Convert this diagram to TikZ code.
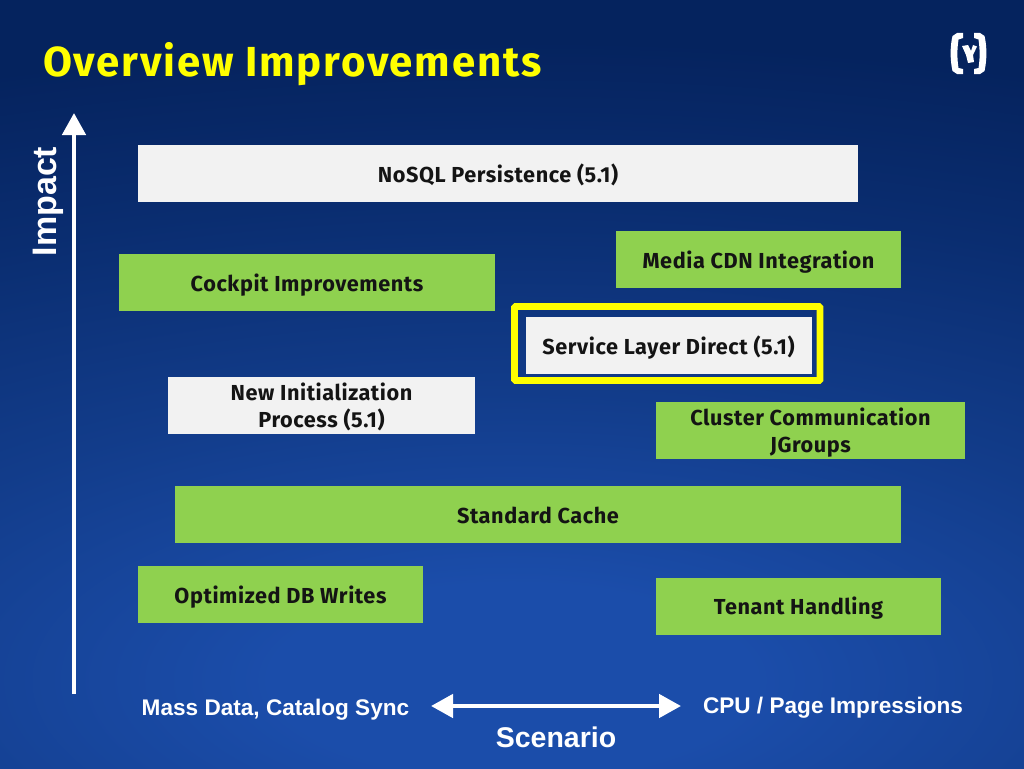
\documentclass[tikz,border=0pt]{standalone}
\usepackage{fontspec}
\setmainfont{Fira Sans}
\newfontfamily\labelfont{Liberation Sans}
\newfontfamily\boxfont[LetterSpace=2.6]{Fira Sans}
\newfontfamily\titlefont[LetterSpace=4.2]{Fira Sans}
\usetikzlibrary{arrows.meta}
\definecolor{bgcenter}{HTML}{1B4DAA}
\definecolor{bgmid}{HTML}{123C8A}
\definecolor{bgdark}{HTML}{0A2D70}
\definecolor{bgouter}{HTML}{05235E}
\definecolor{boxgreen}{HTML}{8FD14F}
\definecolor{boxlight}{HTML}{F2F2F2}
\definecolor{titleyellow}{HTML}{FFFF00}
\pgfdeclareradialshading{slidebg}{\pgfpoint{0bp}{0bp}}{
  color(0bp)=(bgcenter);
  color(3bp)=(bgcenter);
  color(9bp)=(bgmid);
  color(15bp)=(bgdark);
  color(20bp)=(bgouter);
  color(50bp)=(bgouter)}
\tikzset{
  x=1pt,y=-1pt,
  box/.style={anchor=center,inner sep=0pt,outer sep=0pt,align=center,text=black!92,font=\fontsize{21.7}{27}\boxfont\bfseries},
  greenbox/.style={box,fill=boxgreen},
  lightbox/.style={box,fill=boxlight},
  axislabel/.style={text=white,inner sep=0pt,font=\fontsize{22.6}{27}\labelfont\bfseries},
  bigaxis/.style={text=white,inner sep=0pt,font=\fontsize{28.5}{33}\labelfont\bfseries},
  axisarrow/.style={draw=white,line width=4.6pt},
}
\newcommand{\bx}[6]{\node[#1,minimum width=#4pt,minimum height=#5pt] (#2) at (#3) {\raisebox{-17.5pt}{\smash{\begin{tabular}{@{}c@{}}#6\end{tabular}}}};}
\begin{document}
\begin{tikzpicture}
\useasboundingbox (0,0) rectangle (1024,768);
\begin{scope}
\clip (0,0) rectangle (1024,768);
\shade[shading=slidebg] (512-2000,680-800) rectangle (512+2000,680+800);
\end{scope}
\node[anchor=west,inner sep=0pt,text=titleyellow,font=\fontsize{42}{46}\titlefont\bfseries] (title) at (43,64) {Overview Improvements};
% logo
\fill[white] (957,33) -- (963,33) -- (963,38) -- (958.5,39.5) .. controls (957,50) and (957,58) .. (958.5,68) -- (963,69) -- (963,74) -- (957,74) -- (952.5,71) .. controls (950,60) and (950,46) .. (952.5,36) -- cycle;
\fill[white] (980,33) -- (974,33) -- (974,38) -- (978.5,39.5) .. controls (980,50) and (980,58) .. (978.5,68) -- (974,69) -- (974,74) -- (980,74) -- (984.5,71) .. controls (987,60) and (987,46) .. (984.5,36) -- cycle;
\fill[white] (962,46) -- (968,45) -- (971,51) -- (973,45) -- (977,46.5) -- (973,55) -- (974,62) -- (968,63) -- (966,55) -- cycle;
% boxes
\bx{lightbox}{nosql}{498,173.5}{720}{57}{NoSQL Persistence (5.1)}
\bx{greenbox}{cdn}{758.5,259.5}{285}{57}{Media CDN Integration}
\bx{greenbox}{cockpit}{307,282.5}{376}{57}{Cockpit Improvements}
\draw[titleyellow,line width=6.7pt,rounded corners=1pt] (514.5,306.5) rectangle (820,380.5);
\bx{lightbox}{service}{668.5,345.5}{286}{57}{Service Layer Direct (5.1)}
\bx{lightbox}{init}{321.5,405.5}{307}{57}{New Initialization\\Process (5.1)}
\bx{greenbox}{cluster}{810.5,430.5}{309}{57}{Cluster Communication\\JGroups}
\bx{greenbox}{cache}{538,514.5}{726}{57}{Standard Cache}
\bx{greenbox}{writes}{280.5,594.5}{285}{57}{Optimized DB Writes}
\bx{greenbox}{tenant}{798.5,606}{285}{57}{Tenant Handling}
% axes
\coordinate (impactstart) at (74,694);
\coordinate (impactend) at (74,113);
\draw[axisarrow,-{Triangle[length=22pt,width=23pt,fill=white]}] (impactstart) -- (impactend);
\node[bigaxis,rotate=90,font=\fontsize{34}{37}\labelfont\bfseries] (impact) at (48.5,201.5) {Impact};
\node[axislabel] (mass) at (275.5,710) {Mass Data, Catalog Sync};
\node[axislabel] (cpu) at (833,708) {CPU / Page Impressions};
\node[bigaxis] (scenario) at (556,737) {Scenario};
\coordinate (scenleft) at (431,706);
\coordinate (scenright) at (681,706);
\draw[axisarrow,{Triangle[length=22pt,width=23pt,fill=white]}-{Triangle[length=22pt,width=23pt,fill=white]}] (scenleft) -- (scenright);
\end{tikzpicture}
\end{document}
